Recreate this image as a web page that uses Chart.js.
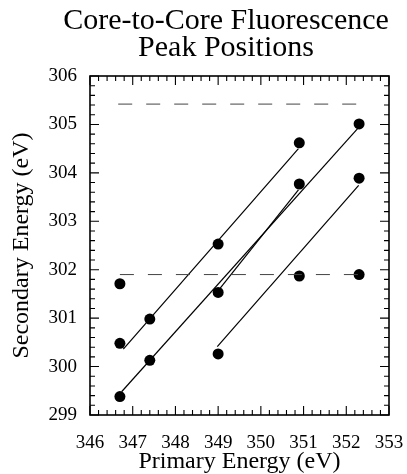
<!DOCTYPE html>
<html>
<head>
<meta charset="utf-8">
<script src="https://cdn.jsdelivr.net/npm/chart.js@4/dist/chart.umd.min.js"></script>
<style>
  html, body { margin: 0; padding: 0; background: #fff; }
  canvas { display: block; }
</style>
</head>
<body>
<canvas id="c" width="407" height="474"></canvas>
<script>
// ---- data ----
const titleLines = ["Core-to-Core Fluorescence", "Peak Positions"];
const xAxisTitle = "Primary Energy (eV)";
const yAxisTitle = "Secondary Energy (eV)";

const primaryEnergy   = [346.7, 346.7, 346.7, 347.4, 347.4, 349.0, 349.0, 349.0, 350.9, 350.9, 350.9, 352.3, 352.3, 352.3];
const secondaryEnergy = [301.71, 300.48, 299.38, 300.98, 300.13, 302.53, 301.53, 300.26, 304.62, 303.77, 301.87, 305.01, 303.89, 301.90];

// fitted solid segments: [x0, y0, x1, y1]
const fitLineA = [346.78, 300.36, 350.88, 304.50];
const fitLineB = [346.74, 299.48, 352.27, 304.92];
const fitLineC = [349.03, 301.60, 350.88, 303.65];
const fitLineD = [348.98, 300.41, 352.29, 303.74];

// dashed reference levels: [x0, x1, y]
const dashUpper = [346.66, 352.30, 305.42];
const dashLower = [346.70, 352.30, 301.90];

const xTicks = [346, 347, 348, 349, 350, 351, 352, 353];
const yTicks = [299, 300, 301, 302, 303, 304, 305, 306];

// ---- build datasets ----
const pts = primaryEnergy.map((x, i) => ({ x: x, y: secondaryEnergy[i] }));
function seg(s) { return [{ x: s[0], y: s[1] }, { x: s[2], y: s[3] }]; }
function hline(d) { return [{ x: d[0], y: d[2] }, { x: d[1], y: d[2] }]; }

const solidStyle = { showLine: true, borderColor: '#000', borderWidth: 1.2, pointRadius: 0, fill: false };
const dashStyle = { showLine: true, borderColor: '#444', borderWidth: 1, borderDash: [14, 14], pointRadius: 0, fill: false };

const FONT = "'Liberation Serif', 'Times New Roman', serif";

const framePlugin = {
  id: 'frame',
  afterDatasetsDraw(chart) {
    const { ctx, chartArea: a, scales } = chart;
    const xs = scales.x, ys = scales.y;
    ctx.save();
    ctx.strokeStyle = '#000';
    ctx.lineWidth = 1.6;
    ctx.strokeRect(a.left, a.top, a.right - a.left, a.bottom - a.top);
    ctx.lineWidth = 1.1;
    ctx.beginPath();
    for (let k = 0; k <= 35; k++) {
      const v = xs.min + k * 0.2;
      const major = k % 5 === 0;
      const p = xs.getPixelForValue(v);
      const L = major ? 9 : 5;
      ctx.moveTo(p, a.bottom); ctx.lineTo(p, a.bottom - L);
      ctx.moveTo(p, a.top); ctx.lineTo(p, a.top + L);
    }
    for (let k = 0; k <= 35; k++) {
      const v = ys.min + k * 0.2;
      const major = k % 5 === 0;
      const p = ys.getPixelForValue(v);
      const L = major ? 9 : 5;
      ctx.moveTo(a.left, p); ctx.lineTo(a.left + L, p);
      ctx.moveTo(a.right, p); ctx.lineTo(a.right - L, p);
    }
    ctx.stroke();
    ctx.restore();
  },
  afterDraw(chart) {
    const { ctx } = chart;
    ctx.save();
    ctx.fillStyle = '#000';
    ctx.font = "30px " + FONT;
    ctx.textAlign = 'center';
    ctx.textBaseline = 'alphabetic';
    ctx.fillText(titleLines[0], 226, 29);
    ctx.fillText(titleLines[1], 226, 56);
    ctx.restore();
  }
};

new Chart(document.getElementById('c'), {
  type: 'scatter',
  data: {
    datasets: [
      Object.assign({ data: hline(dashUpper) }, dashStyle),
      Object.assign({ data: hline(dashLower) }, dashStyle),
      Object.assign({ data: seg(fitLineA) }, solidStyle),
      Object.assign({ data: seg(fitLineB) }, solidStyle),
      Object.assign({ data: seg(fitLineC) }, solidStyle),
      Object.assign({ data: seg(fitLineD) }, solidStyle),
      { data: pts, showLine: false, pointRadius: 5.5, pointBackgroundColor: '#000', pointBorderColor: '#000', pointBorderWidth: 0 }
    ]
  },
  options: {
    responsive: false,
    animation: false,
    events: [],
    layout: { padding: { top: 76, right: 18, left: 0, bottom: 0 } },
    plugins: { legend: { display: false }, tooltip: { enabled: false }, title: { display: false } },
    scales: {
      x: {
        type: 'linear', min: 346, max: 353,
        afterBuildTicks(s) { s.ticks = xTicks.map(v => ({ value: v })); },
        afterFit(s) { s.height = 59; s.paddingLeft = 0; s.paddingRight = 0; },
        grid: { display: false, drawTicks: false },
        border: { display: false },
        ticks: { color: '#000', font: { family: FONT, size: 19 }, padding: 17, maxRotation: 0, autoSkip: false },
        title: { display: true, text: xAxisTitle, color: '#000', font: { family: FONT, size: 24, lineHeight: 1 }, padding: { top: 0, bottom: 0 } }
      },
      y: {
        type: 'linear', min: 299, max: 306,
        afterBuildTicks(s) { s.ticks = yTicks.map(v => ({ value: v })); },
        afterFit(s) { s.width = 90; s.paddingTop = 0; s.paddingBottom = 0; },
        grid: { display: false, drawTicks: false },
        border: { display: false },
        ticks: { color: '#000', font: { family: FONT, size: 19 }, padding: 13, autoSkip: false },
        title: { display: true, text: yAxisTitle, color: '#000', font: { family: FONT, size: 24, lineHeight: 1 }, padding: { top: 10, bottom: 0 } }
      }
    }
  },
  plugins: [framePlugin]
});
</script>
</body>
</html>
